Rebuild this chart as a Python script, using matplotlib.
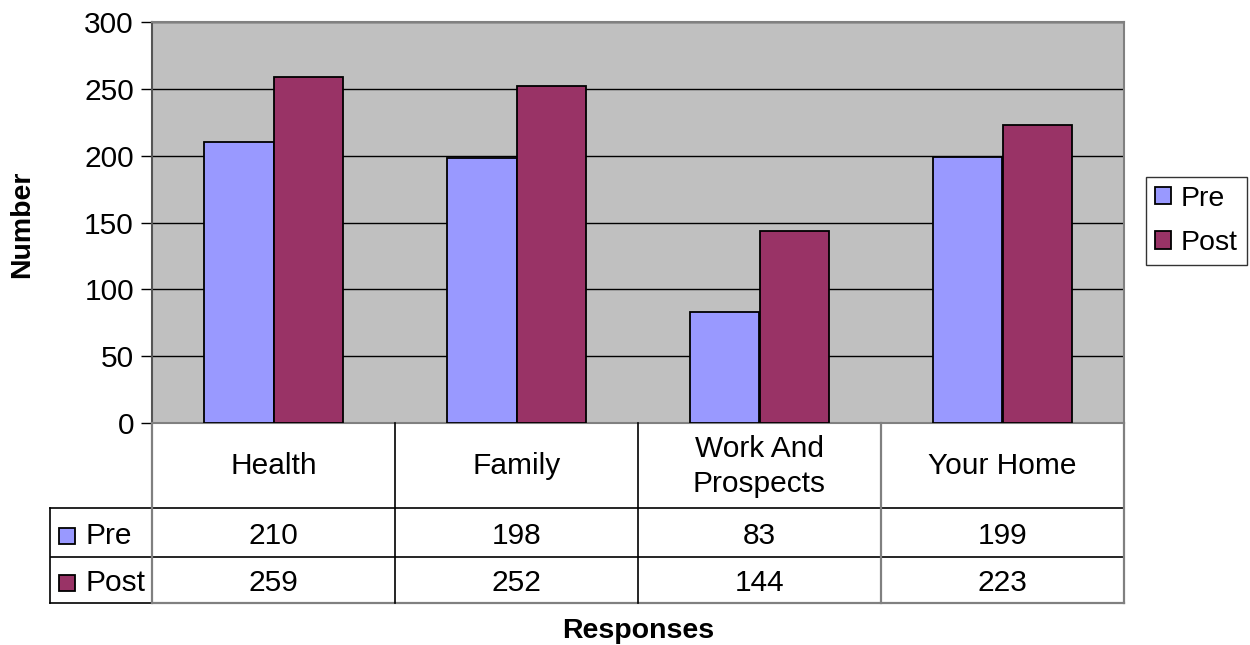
import matplotlib
matplotlib.use("Agg")
import matplotlib.pyplot as plt
from matplotlib.patches import Rectangle

categories = ["Health", "Family", "Work And\nProspects", "Your Home"]
series = ["Pre", "Post"]
pre = [210, 198, 83, 199]
post = [259, 252, 144, 223]
yticks = [0, 50, 100, 150, 200, 250, 300]

colors = {"Pre": "#9999FF", "Post": "#993366"}
values = {"Pre": pre, "Post": post}

plt.rcParams["font.family"] = ["Liberation Sans", "DejaVu Sans"]
FS = 21.5
BFS = 20.5

W, H = 1250, 645
fig = plt.figure(figsize=(W / 100, H / 100), dpi=100)


def box(x0, y0, x1, y1):
    # pixel box (top-left origin) -> figure fraction rect
    return [x0 / W, 1 - y1 / H, (x1 - x0) / W, (y1 - y0) / H]


# plot area
ax = fig.add_axes(box(152, 22, 1124, 423))
ax.set_facecolor("#C0C0C0")
n = len(categories)
ax.set_xlim(0, n)
ax.set_ylim(0, 300)
bw = 0.288
for k, name in enumerate(series):
    xs = [i + 0.5 + (k - 0.5) * bw for i in range(n)]
    ax.bar(xs, values[name], width=bw, color=colors[name],
           edgecolor="black", linewidth=1.3, zorder=3)
ax.set_yticks(yticks)
ax.set_yticklabels([str(t) for t in yticks], fontsize=FS)
ax.set_xticks([])
ax.yaxis.grid(True, color="black", linewidth=1.0, zorder=1)
ax.tick_params(axis="y", length=8, width=1, color="black", pad=5)
for side in ["top", "right", "bottom"]:
    ax.spines[side].set_color("#808080")
    ax.spines[side].set_linewidth(1.5)
ax.spines["left"].set_color("#555555")
ax.spines["left"].set_linewidth(1.5)

fig.text(22 / W, 1 - 224 / H, "Number", rotation=90, ha="center",
         va="center", fontsize=BFS, fontweight="bold")

# data table below the plot, sharing the category scale
unit = (1124 - 152) / n
x_left = -(152 - 50) / unit
tx = fig.add_axes(box(50, 423, 1124, 603))
tx.set_xlim(x_left, n)
tx.set_ylim(603, 423)
tx.axis("off")
row_y = [423, 508, 557, 603]
lk = dict(color="black", linewidth=1.2, clip_on=False)
gk = dict(color="#808080", linewidth=1.6, clip_on=False)
tx.plot([x_left, n], [row_y[1], row_y[1]], **lk)
tx.plot([x_left + 0.005, n], [row_y[2], row_y[2]], **lk)
tx.plot([0, n], [row_y[3], row_y[3]], **gk)
tx.plot([x_left, 0], [row_y[3], row_y[3]], **lk)
tx.plot([x_left] * 2, [row_y[1], row_y[3]], **lk)
tx.plot([0, 0], [row_y[0], row_y[3]], **gk)
for i in range(1, n + 1):
    style = gk if i in (3, 4) else lk
    tx.plot([i, i], [row_y[0], row_y[3]], **style)

for i, cat in enumerate(categories):
    tx.text(i + 0.5, (row_y[0] + row_y[1]) / 2 + 1, cat, ha="center",
            va="center", fontsize=FS, linespacing=1.35)
for r, name in enumerate(series):
    yc = (row_y[r + 1] + row_y[r + 2]) / 2 + 3
    tx.add_patch(Rectangle((x_left + 0.035, yc - 8), 0.066, 16,
                           facecolor=colors[name], edgecolor="black",
                           linewidth=1.3, clip_on=False))
    tx.text(x_left + 0.145, yc, name, ha="left", va="center", fontsize=FS)
    for i, v in enumerate(values[name]):
        tx.text(i + 0.5, yc, str(v), ha="center", va="center", fontsize=FS)

fig.text(638 / W, 1 - 631 / H, "Responses", ha="center", va="center",
         fontsize=BFS, fontweight="bold")

handles = [Rectangle((0, 0), 1, 1, facecolor=colors[s], edgecolor="black",
                     linewidth=1.3) for s in series]
leg = fig.legend(handles, series, loc="upper left",
                 bbox_to_anchor=(1146 / W, 1 - 177 / H), fontsize=20.5,
                 frameon=True, fancybox=False, handlelength=0.58,
                 handleheight=0.58, handletextpad=0.35, borderpad=0.3,
                 borderaxespad=0, labelspacing=0.65)
leg.get_frame().set_edgecolor("black")
leg.get_frame().set_linewidth(1.0)

fig.savefig("out.png", dpi=100)
